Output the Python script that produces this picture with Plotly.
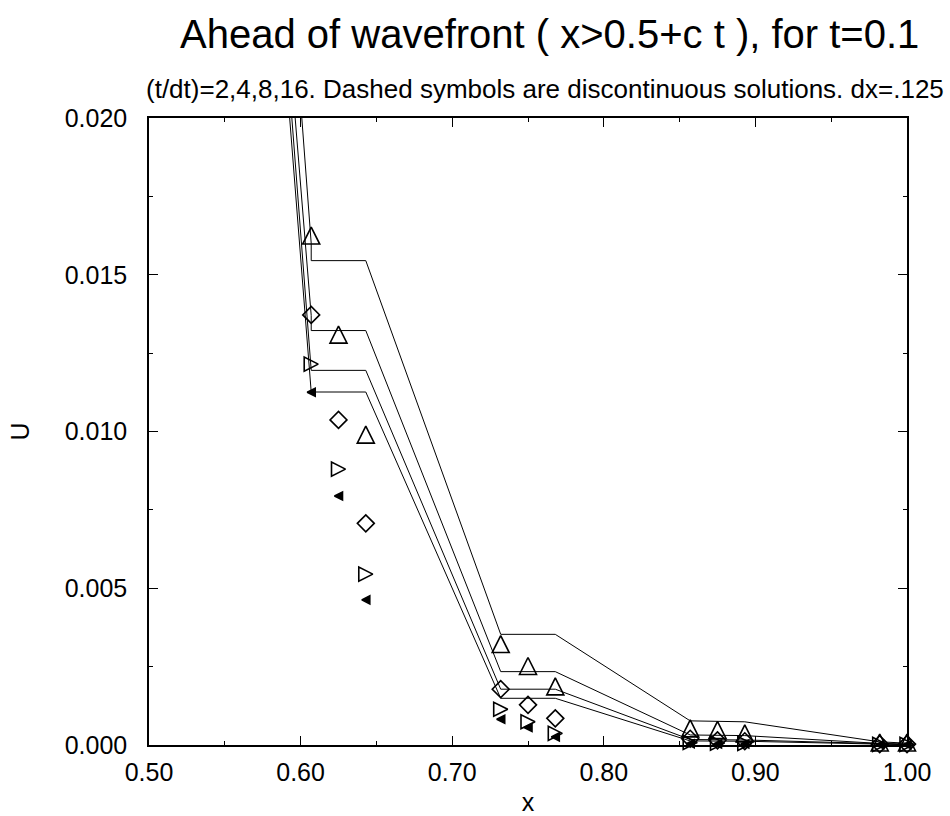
import plotly.graph_objects as go

# ---- data ----
x_line = [0.589, 0.607, 0.607, 0.643, 0.732, 0.768, 0.857, 0.893, 0.982, 1.0]
cont_dt2 = [0.0276, 0.0160, 0.01545, 0.01545, 0.00353, 0.00353, 0.00077, 0.00074, 0.00010, 0.00006]
cont_dt4 = [0.02442, 0.0137, 0.01322, 0.01322, 0.00234, 0.00234, 0.00032, 0.00030, 0.00005, 0.00003]
cont_dt8 = [0.02329, 0.01215, 0.01195, 0.01195, 0.00178, 0.00178, 0.000175, 0.00016, 0.00003, 0.00002]
cont_dt16 = [0.02233, 0.01126, 0.01126, 0.01126, 0.00149, 0.00149, 0.00013, 0.00012, 0.00002, 0.00001]

x_sym = [0.607, 0.625, 0.643, 0.732, 0.75, 0.768, 0.857, 0.875, 0.893, 0.982, 1.0]
disc_dt2 = [0.01625, 0.01309, 0.00990, 0.00322, 0.00252, 0.00187, 0.00053, 0.00048, 0.00037, 0.00008, 0.00008]
disc_dt4 = [0.01372, 0.01037, 0.00707, 0.00178, 0.00128, 0.00085, 0.00020, 0.00015, 0.00012, 0.00003, 0.00003]
disc_dt8 = [0.01215, 0.00880, 0.00545, 0.00114, 0.00074, 0.00037, 0.00008, 0.00006, 0.00005, 0.00002, 0.00002]
disc_dt16 = [0.01125, 0.00794, 0.00463, 0.00082, 0.00056, 0.00026, 0.00004, 0.00003, 0.00003, 0.00001, 0.00001]

x_ticks = [0.5, 0.6, 0.7, 0.8, 0.9, 1.0]
y_ticks = [0.0, 0.005, 0.010, 0.015, 0.020]

title_text = "Ahead of wavefront ( x>0.5+c t ), for t=0.1"
subtitle_text = "(t/dt)=2,4,8,16. Dashed symbols are discontinuous solutions. dx=.125"

FONT = "Liberation Sans, Arial, sans-serif"

fig = go.Figure()

for name, vals in [("t/dt=2", cont_dt2), ("t/dt=4", cont_dt4),
                   ("t/dt=8", cont_dt8), ("t/dt=16", cont_dt16)]:
    fig.add_trace(go.Scatter(x=x_line, y=vals, mode="lines", name=name,
                             line=dict(color="black", width=1),
                             showlegend=False, hoverinfo="skip"))

sym_specs = [
    ("disc t/dt=2", disc_dt2, 17, 180, "rgba(0,0,0,0)"),
    ("disc t/dt=4", disc_dt4, 13, None, "rgba(0,0,0,0)"),
    ("disc t/dt=8", disc_dt8, 14, 270, "rgba(0,0,0,0)"),
    ("disc t/dt=16", disc_dt16, 8, 90, "black"),
]
for name, vals, size, ang, fill in sym_specs:
    if ang is None:
        marker = dict(symbol="diamond", size=size, color=fill,
                      line=dict(color="black", width=1.6))
    else:
        marker = dict(symbol="arrow-down", size=size, angle=ang, standoff=size / 2,
                      color=fill, line=dict(color="black", width=1.6))
    fig.add_trace(go.Scatter(x=x_sym, y=vals, mode="markers", name=name,
                             marker=marker, cliponaxis=False,
                             showlegend=False, hoverinfo="skip"))

axis_common = dict(
    showline=True, linecolor="black", linewidth=1.5, mirror="ticks",
    ticks="inside", ticklen=9, tickwidth=1.2, tickcolor="black",
    showgrid=False, zeroline=False, automargin=False,
    tickfont=dict(family=FONT, size=25, color="black"),
    minor=dict(ticks="inside", ticklen=4, tickwidth=1, tickcolor="black", showgrid=False),
)

fig.update_xaxes(range=[0.5, 1.0], tickvals=x_ticks,
                 ticktext=[f"{v:.2f}" for v in x_ticks],
                 minor_dtick=0.05, minor_tick0=0.5, ticklabelstandoff=4,
                 title=dict(text="x", font=dict(family=FONT, size=25, color="black"), standoff=10),
                 **axis_common)
fig.update_yaxes(range=[0.0, 0.02], tickvals=y_ticks,
                 ticktext=[f"{v:.3f}" for v in y_ticks],
                 minor_dtick=0.0025, minor_tick0=0.0, ticklabelstandoff=15,
                 title=dict(text="U", font=dict(family=FONT, size=25, color="black"), standoff=28),
                 **axis_common)

fig.update_layout(
    width=950, height=816,
    margin=dict(l=149, r=43, t=118, b=71, pad=0),
    paper_bgcolor="white", plot_bgcolor="white",
    font=dict(family=FONT, color="black"),
    annotations=[
        dict(text=title_text, xref="paper", yref="paper", x=0.529, y=1, yshift=60,
             xanchor="center", yanchor="bottom", showarrow=False,
             font=dict(family=FONT, size=40, color="black")),
        dict(text=subtitle_text, xref="paper", yref="paper", x=0.522, y=1, yshift=12,
             xanchor="center", yanchor="bottom", showarrow=False,
             font=dict(family=FONT, size=26, color="black")),
    ],
)

fig.write_html("out.html")
